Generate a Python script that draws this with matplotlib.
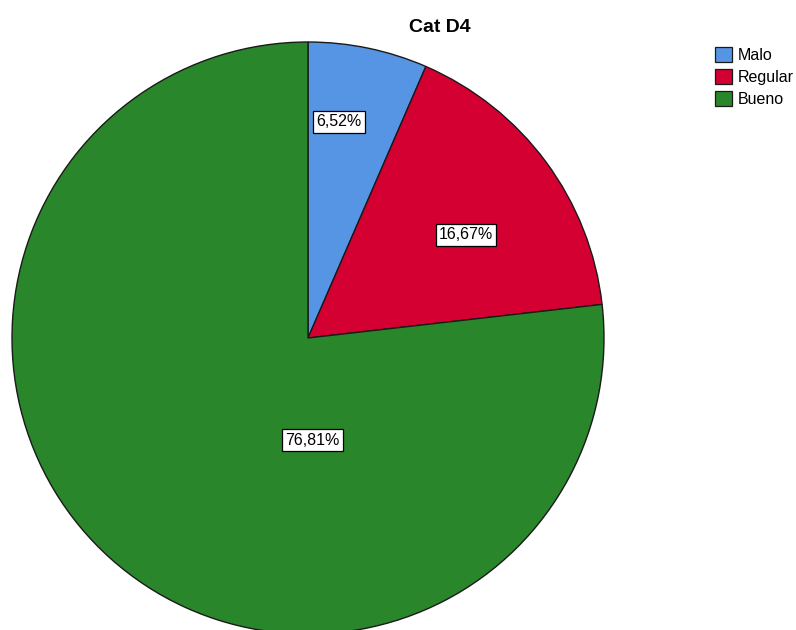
import matplotlib
matplotlib.use("Agg")
import matplotlib.pyplot as plt
from matplotlib.patches import Patch

# data
categories = ["Malo", "Regular", "Bueno"]
percents = [6.52, 16.67, 76.81]
pct_labels = ["6,52%", "16,67%", "76,81%"]
colors = ["#5595E3", "#D40032", "#29862A"]
title = "Cat D4"

# where SPSS put the value boxes (data units, pie radius = 1)
label_pos = [(0.105, 0.730), (0.534, 0.348), (0.014, -0.345)]

plt.rcParams["font.family"] = ["Liberation Sans", "DejaVu Sans"]

W, H = 796, 630
fig = plt.figure(figsize=(W / 100, H / 100), dpi=100)

# pie axis: centre (308, 338) px, radius 296 px
cx, cy, r = 308, 338, 296
ax = fig.add_axes([(cx - r) / W, (H - cy - r) / H, 2 * r / W, 2 * r / H])
ax.pie(percents, colors=colors, startangle=90, counterclock=False,
       wedgeprops=dict(edgecolor="#1a1a1a", linewidth=1.0))
ax.set_xlim(-1, 1)
ax.set_ylim(-1, 1)
ax.set_aspect("equal")
ax.axis("off")

for (x, y), txt in zip(label_pos, pct_labels):
    ax.text(x, y, txt, ha="center", va="center", fontsize=11.5,
            bbox=dict(boxstyle="square,pad=0.2", facecolor="white",
                      edgecolor="black", linewidth=0.9))

fig.text(440 / W, 1 - 27 / H, title, ha="center", va="center",
         fontsize=14, fontweight="bold")

handles = [Patch(facecolor=c, edgecolor="#1a1a1a", linewidth=0.9) for c in colors]
fig.legend(handles, categories, loc="upper left",
           bbox_to_anchor=(715 / W, 1 - 47 / H), frameon=False,
           fontsize=11.5, handlelength=1.05, handleheight=1.05,
           handletextpad=0.35, labelspacing=0.38, borderpad=0,
           borderaxespad=0)

fig.savefig("out.png", dpi=100)
